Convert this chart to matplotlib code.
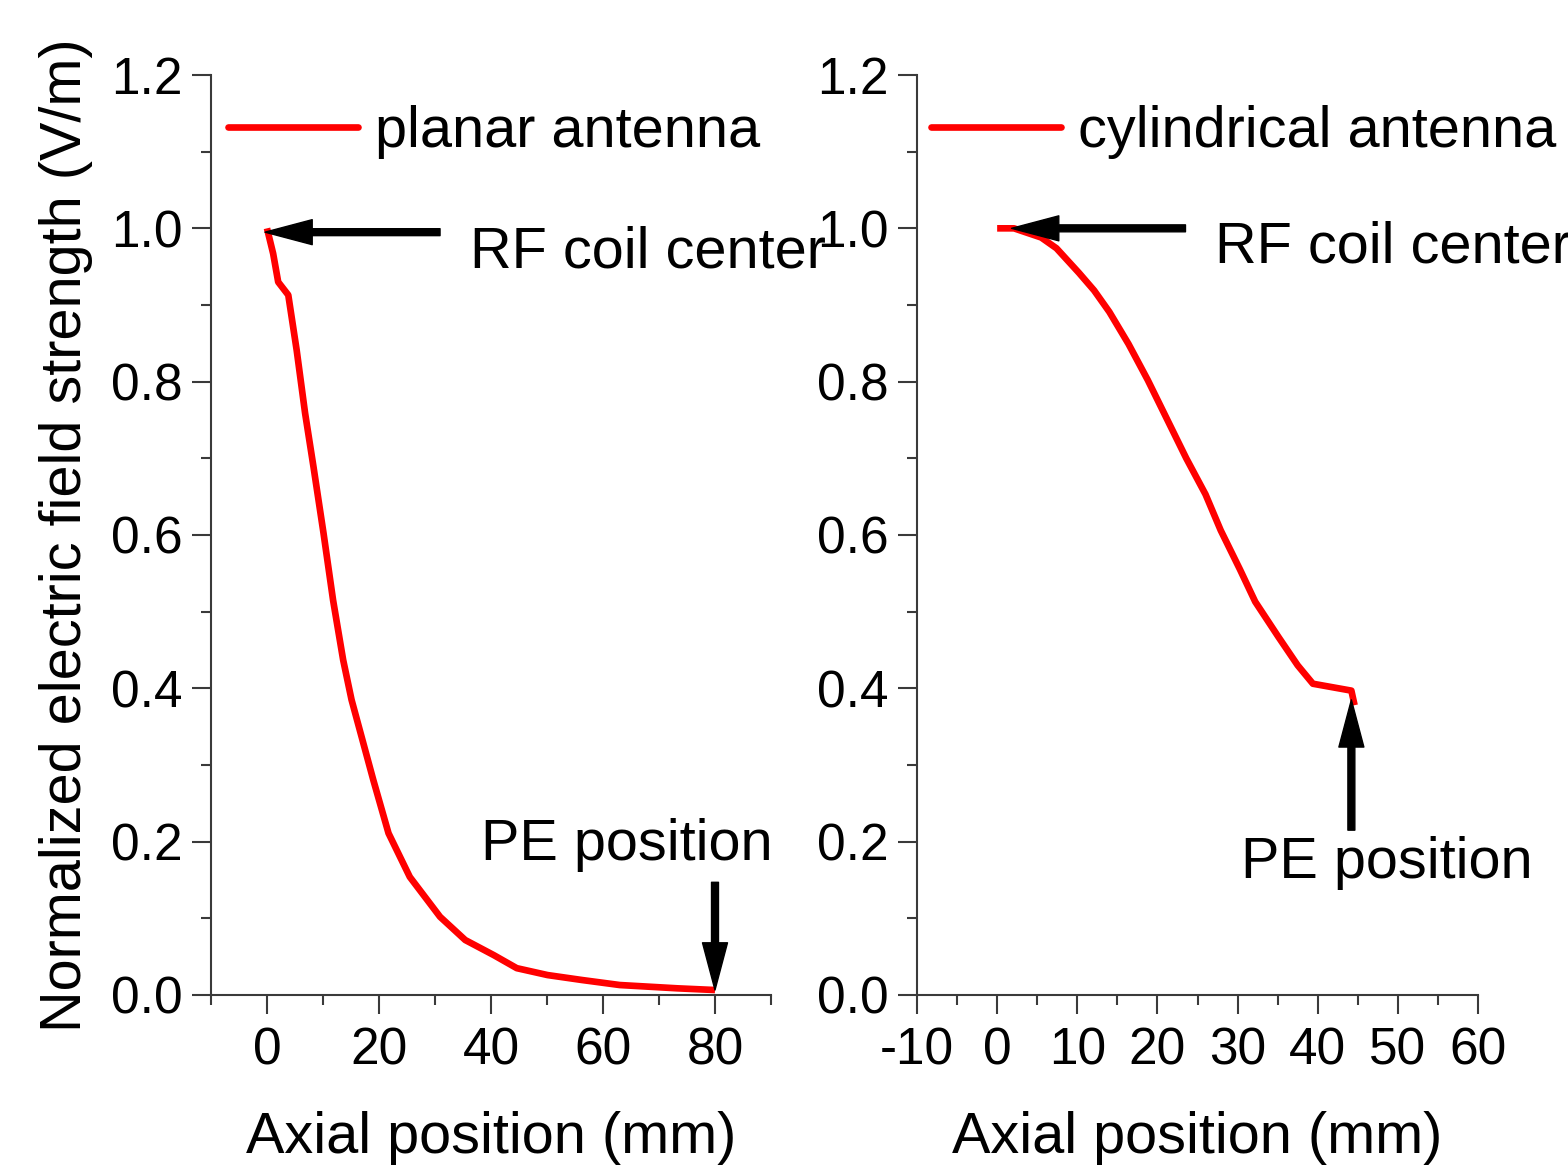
import matplotlib
matplotlib.use("Agg")
import matplotlib.pyplot as plt
from matplotlib.ticker import MultipleLocator, FormatStrFormatter

plt.rcParams['font.family'] = ['Liberation Sans', 'DejaVu Sans']
plt.rcParams['axes.unicode_minus'] = False

# ---- data ----
planar_x = [0, 1.1, 2.0, 3.8, 5.3, 6.8, 8.3, 10.1, 11.8, 13.6, 15.1, 19.0, 21.7,
            25.5, 30.9, 35.4, 40.5, 44.6, 50.1, 56.2, 63.0, 73.3, 80.0]
planar_y = [1.0, 0.967, 0.930, 0.913, 0.841, 0.759, 0.689, 0.602, 0.515, 0.437,
            0.385, 0.280, 0.211, 0.154, 0.102, 0.0717, 0.052, 0.035, 0.026,
            0.0196, 0.013, 0.0087, 0.0065]

cyl_x = [0, 2.1, 5.5, 7.4, 10.2, 12.1, 14.0, 16.4, 18.8, 21.2, 23.6, 26.0, 27.9,
         30.3, 32.2, 35.1, 37.5, 39.4, 44.2, 44.6]
cyl_y = [1.0, 1.0, 0.988, 0.974, 0.942, 0.919, 0.891, 0.849, 0.802, 0.751, 0.700,
         0.653, 0.606, 0.555, 0.513, 0.467, 0.430, 0.406, 0.397, 0.378]

left_xticks = [0, 20, 40, 60, 80]
right_xticks = [-10, 0, 10, 20, 30, 40, 50, 60]
yticks = [0.0, 0.2, 0.4, 0.6, 0.8, 1.0, 1.2]

labels = ["planar antenna", "cylindrical antenna"]
xlabel = "Axial position (mm)"
ylabel = "Normalized electric field strength (V/m)"

W, H = 1568, 1171
fig = plt.figure(figsize=(W / 100, H / 100), dpi=100)

ax1 = fig.add_axes([211 / W, 1 - 995 / H, 560 / W, 920 / H])
ax2 = fig.add_axes([917 / W, 1 - 995 / H, 561 / W, 920 / H])

spine_col = '#3a3a3a'
FS_TICK = 37
FS_TXT = 41.5
RED = '#ff0000'
LW = 4.8

for ax in (ax1, ax2):
    for s in ('top', 'right'):
        ax.spines[s].set_visible(False)
    for s in ('left', 'bottom'):
        ax.spines[s].set_color(spine_col)
        ax.spines[s].set_linewidth(1.5)
    ax.set_ylim(0, 1.2)
    ax.set_yticks(yticks)
    ax.yaxis.set_minor_locator(MultipleLocator(0.1))
    ax.yaxis.set_major_formatter(FormatStrFormatter('%.1f'))
    ax.tick_params(which='major', direction='out', length=13.5, width=1.5,
                   color=spine_col, labelsize=FS_TICK)
    ax.tick_params(which='minor', direction='out', length=7, width=1.5,
                   color=spine_col)
    ax.tick_params(axis='y', which='major', pad=7)
    ax.tick_params(axis='x', which='major', pad=9)

# left panel
ax1.set_xlim(-10, 90)
ax1.set_xticks(left_xticks)
ax1.xaxis.set_minor_locator(MultipleLocator(10))
ax1.plot(planar_x, planar_y, color=RED, lw=LW, label=labels[0],
         solid_capstyle='butt', clip_on=False)

# right panel
ax2.set_xlim(-10, 60)
ax2.set_xticks(right_xticks)
ax2.xaxis.set_minor_locator(MultipleLocator(5))
ax2.plot(cyl_x, cyl_y, color=RED, lw=LW, label=labels[1],
         solid_capstyle='butt', clip_on=False)

for ax, lx in ((ax1, (228 - 211) / 560), (ax2, (931 - 917) / 561)):
    leg = ax.legend(loc='center left', bbox_to_anchor=(lx, (995 - 132) / 920),
                    frameon=False, fontsize=FS_TXT, handlelength=2.25,
                    handletextpad=0.3, borderpad=0, borderaxespad=0)
    for ln in leg.get_lines():
        ln.set_solid_capstyle('round')
    ax.set_xlabel(xlabel, fontsize=FS_TXT)
    ax.xaxis.set_label_coords(0.5, -0.126)

ax1.set_ylabel(ylabel, fontsize=FS_TXT)
ax1.yaxis.set_label_coords(-0.211, 0.5)

arrow_kw = dict(width=5, headwidth=18, headlength=34, shrink=0, color='k')

# left annotations
ax1.annotate('', xy=(-0.36, 0.995), xytext=(30.9, 0.995),
             arrowprops=arrow_kw, annotation_clip=False)
ax1.text(36.25, 0.9495, "RF coil center", fontsize=FS_TXT, va='baseline',
         ha='left', clip_on=False)
ax1.annotate('', xy=(80, 0.0065), xytext=(80, 0.147),
             arrowprops=arrow_kw, annotation_clip=False)
ax1.text(38.2, 0.176, "PE position", fontsize=FS_TXT, va='baseline',
         ha='left', clip_on=False)

# right annotations
ax2.annotate('', xy=(1.8, 1.0), xytext=(23.5, 1.0),
             arrowprops=arrow_kw, annotation_clip=False)
ax2.text(27.2, 0.9555, "RF coil center", fontsize=FS_TXT, va='baseline',
         ha='left', clip_on=False)
ax2.annotate('', xy=(44.2, 0.385), xytext=(44.2, 0.215),
             arrowprops=arrow_kw, annotation_clip=False)
ax2.text(30.4, 0.1526, "PE position", fontsize=FS_TXT, va='baseline',
         ha='left', clip_on=False)

fig.savefig("out.png", dpi=100)
